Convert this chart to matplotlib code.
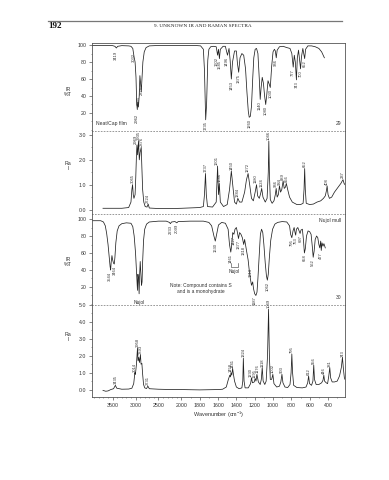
import numpy as np
import matplotlib
matplotlib.use("Agg")
import matplotlib.pyplot as plt
from matplotlib.lines import Line2D
from matplotlib.ticker import FixedLocator, MultipleLocator

plt.rcParams['font.family'] = ['Liberation Sans', 'DejaVu Sans']
plt.rcParams['mathtext.fontset'] = 'custom'
plt.rcParams['mathtext.rm'] = 'Liberation Sans'
plt.rcParams['mathtext.it'] = 'Liberation Sans'

# ---------------- data (wavenumber, value) ----------------
IR29 = [(3950, 99.5), (3700, 99.5), (3500, 99.3), (3450, 98.5), (3419, 96.5), (3390, 98.5), (3300, 99.3),
        (3150, 99), (3100, 98.5), (3060, 96), (3032, 86), (3010, 80), (2990, 62), (2975, 32), (2962, 24),
        (2950, 33), (2937, 27), (2920, 40), (2905, 64), (2890, 55), (2875, 45), (2860, 60), (2840, 80),
        (2810, 92), (2770, 97), (2700, 99), (2500, 99.5), (2200, 99.5), (2000, 99.5), (1850, 99.5),
        (1790, 99), (1760, 95), (1748, 70), (1735, 12), (1725, 30), (1712, 82), (1700, 95), (1680, 98),
        (1650, 98.5), (1620, 98), (1605, 88), (1595, 95), (1585, 84), (1575, 95), (1545, 98.5), (1520, 98.5),
        (1497, 88), (1480, 96), (1468, 82), (1455, 60), (1442, 80), (1420, 93), (1400, 93), (1388, 78),
        (1375, 68), (1360, 85), (1340, 90), (1320, 88), (1300, 72), (1285, 45), (1270, 22), (1260, 15),
        (1248, 16), (1235, 28), (1222, 60), (1210, 85), (1195, 95), (1180, 96), (1165, 90), (1150, 60),
        (1140, 36), (1130, 50), (1118, 62), (1105, 55), (1092, 40), (1080, 30), (1068, 42), (1055, 58),
        (1045, 55), (1030, 50), (1015, 75), (1000, 92), (985, 95), (975, 93), (965, 85), (955, 94),
        (930, 98), (890, 98.5), (850, 97), (815, 96), (795, 90), (780, 74), (768, 88), (757, 80),
        (745, 59), (735, 85), (722, 94), (710, 82), (700, 72), (690, 86), (675, 96), (662, 88),
        (655, 84), (645, 95), (620, 99), (580, 99), (540, 98), (500, 96), (470, 92), (440, 85)]

RA29 = [(3710, 0.05), (3500, 0.05), (3300, 0.05), (3150, 0.08), (3100, 0.3), (3080, 0.8), (3065, 1.0),
        (3050, 0.6), (3035, 0.45), (3010, 0.6), (2995, 1.3), (2980, 2.2), (2969, 2.6), (2955, 2.2),
        (2935, 2.75), (2918, 2.0), (2900, 2.3), (2876, 2.5), (2862, 1.7), (2845, 0.8), (2820, 0.3),
        (2790, 0.12), (2750, 0.1), (2724, 0.22), (2700, 0.06), (2500, 0.04), (2200, 0.04), (2000, 0.05),
        (1800, 0.08), (1760, 0.12), (1748, 0.6), (1737, 1.45), (1728, 0.6), (1715, 0.12), (1660, 0.1),
        (1620, 0.3), (1605, 1.75), (1595, 0.6), (1586, 1.05), (1575, 0.3), (1540, 0.12), (1500, 0.2),
        (1475, 0.8), (1455, 1.55), (1440, 1.0), (1420, 0.3), (1400, 0.22), (1384, 0.45), (1365, 0.3),
        (1340, 0.3), (1310, 0.7), (1290, 1.2), (1272, 1.45), (1255, 1.0), (1235, 0.45), (1215, 0.35),
        (1195, 0.7), (1180, 1.0), (1168, 0.55), (1150, 0.45), (1135, 0.65), (1124, 0.85), (1110, 0.5),
        (1085, 0.3), (1065, 0.45), (1052, 1.5), (1046, 2.75), (1040, 1.5), (1030, 0.4), (1010, 0.25),
        (990, 0.35), (975, 0.6), (966, 0.85), (955, 0.5), (942, 0.6), (930, 0.95), (918, 0.7),
        (905, 0.8), (890, 1.15), (878, 0.85), (865, 0.9), (855, 1.05), (840, 0.8), (820, 0.5),
        (790, 0.3), (740, 0.2), (700, 0.2), (672, 0.25), (662, 0.8), (655, 1.65), (648, 0.8),
        (638, 0.25), (600, 0.2), (560, 0.22), (520, 0.3), (480, 0.35), (450, 0.45), (430, 0.55),
        (418, 0.75), (410, 0.95), (400, 0.6), (385, 0.45), (360, 0.5), (330, 0.7), (300, 0.85),
        (280, 0.95), (260, 1.05), (245, 1.15), (237, 1.2), (225, 1.05), (215, 1.0)]

IR30 = [(3950, 98), (3760, 98), (3700, 96.5), (3660, 92), (3630, 83), (3600, 70), (3575, 55), (3555, 44),
        (3544, 40), (3530, 50), (3515, 57), (3500, 52), (3480, 48), (3464, 47), (3450, 55), (3430, 72),
        (3400, 86), (3360, 92), (3300, 94.5), (3200, 95.5), (3100, 95), (3060, 91), (3030, 80), (3000, 60),
        (2985, 45), (2970, 28), (2958, 16), (2948, 35), (2935, 30), (2922, 12), (2910, 35), (2898, 50),
        (2885, 38), (2870, 22), (2858, 26), (2845, 50), (2825, 75), (2800, 88), (2760, 94), (2700, 96.5),
        (2500, 97.5), (2330, 97.5), (2260, 96), (2240, 94.5), (2215, 96.5), (2140, 97), (2100, 95.5),
        (2070, 97), (1900, 97.5), (1760, 97.5), (1700, 96), (1670, 92), (1645, 80), (1630, 74), (1615, 82),
        (1595, 93), (1560, 96), (1520, 95), (1490, 88), (1475, 70), (1461, 61), (1450, 70), (1440, 84),
        (1427, 82), (1415, 88), (1400, 90), (1390, 85), (1377, 77), (1365, 84), (1350, 82), (1335, 78),
        (1320, 70), (1310, 76), (1298, 68), (1285, 60), (1272, 52), (1260, 40), (1248, 30), (1235, 22),
        (1222, 26), (1213, 18), (1200, 12), (1187, 10), (1175, 14), (1165, 30), (1150, 60), (1138, 82),
        (1125, 88), (1112, 84), (1100, 70), (1085, 48), (1072, 33), (1062, 28), (1052, 35), (1040, 55),
        (1025, 75), (1005, 88), (980, 94), (950, 96), (900, 97), (850, 96.5), (820, 92), (808, 82),
        (795, 78), (782, 86), (770, 90), (760, 84), (753, 81), (745, 88), (730, 90), (715, 86), (705, 83),
        (695, 87), (680, 88), (668, 75), (658, 60), (648, 65), (635, 80), (618, 86), (600, 85), (585, 82),
        (572, 68), (562, 55), (552, 62), (540, 76), (525, 80), (512, 78), (500, 70), (490, 66), (480, 74),
        (474, 63), (466, 72), (455, 68), (445, 71), (430, 66)]

RA30 = [(3710, -0.05), (3650, -0.1), (3600, -0.08), (3540, 0.0), (3480, 0.05), (3440, 0.25), (3410, 0.08),
        (3300, 0.02), (3150, 0.03), (3080, 0.08), (3040, 0.35), (3014, 1.0), (3005, 0.9), (2995, 1.1),
        (2980, 1.5), (2958, 2.45), (2945, 1.7), (2930, 1.9), (2915, 1.6), (2893, 2.05), (2880, 1.5),
        (2862, 1.55), (2845, 0.9), (2825, 0.3), (2800, 0.1), (2760, 0.06), (2731, 0.2), (2700, 0.05),
        (2500, 0.02), (2200, 0.0), (2000, 0.0), (1800, -0.02), (1600, 0.0), (1550, 0.02), (1510, 0.15),
        (1490, 0.55), (1472, 0.85), (1465, 0.75), (1458, 1.0), (1450, 0.85), (1441, 1.25), (1432, 0.9),
        (1420, 0.5), (1400, 0.15), (1370, 0.05), (1340, 0.1), (1330, 0.5), (1324, 1.85), (1316, 0.5),
        (1305, 0.1), (1270, 0.1), (1245, 0.35), (1235, 0.7), (1225, 0.4), (1205, 0.45), (1195, 0.65),
        (1186, 0.5), (1176, 0.9), (1160, 0.45), (1140, 0.3), (1128, 0.6), (1118, 1.3), (1108, 0.5),
        (1090, 0.3), (1075, 0.5), (1060, 2.0), (1049, 4.75), (1040, 2.0), (1030, 0.6), (1015, 0.6),
        (1002, 0.9), (990, 0.35), (960, 0.15), (930, 0.2), (915, 0.45), (903, 0.9), (892, 0.4),
        (870, 0.15), (840, 0.12), (815, 0.3), (803, 1.0), (795, 2.1), (787, 1.0), (775, 0.25),
        (740, 0.12), (680, 0.1), (640, 0.15), (622, 0.4), (612, 0.8), (602, 0.35), (580, 0.25),
        (565, 0.5), (556, 1.45), (548, 0.6), (530, 0.3), (500, 0.3), (470, 0.4), (455, 0.55),
        (446, 0.85), (438, 0.5), (420, 0.4), (405, 0.35), (392, 0.8), (381, 1.3), (372, 0.7),
        (355, 0.45), (330, 0.45), (300, 0.5), (275, 0.8), (255, 1.3), (243, 1.9), (232, 1.2),
        (222, 0.7), (215, 0.6)]

# peak labels: (text, wavenumber, y)
IR29_LABELS = [("3419", 3419, 93), ("3032", 3040, 91), ("2962", 2968, 19), ("2935", 2930, 40),
               ("2875", 2868, 52), ("1735", 1735, 10), ("1602", 1612, 86), ("1585", 1578, 82),
               ("1496", 1500, 86), ("1453", 1455, 58), ("1375", 1372, 66), ("1260", 1255, 13),
               ("1140", 1142, 34), ("1080", 1080, 28), ("1030", 1028, 48), ("966", 965, 83),
               ("777", 782, 72), ("743", 745, 57), ("700", 700, 70), ("652", 652, 82)]
RA29_LABELS = [("3065", 3065, 1.05), ("2969", 2998, 2.65), ("2935", 2935, 2.8), ("2876", 2862, 2.55),
               ("2724", 2724, 0.27), ("1737", 1737, 1.5), ("1601", 1610, 1.8), ("1586", 1580, 1.1),
               ("1450", 1455, 1.6), ("1384", 1384, 0.5), ("1272", 1272, 1.5), ("1180", 1184, 1.05),
               ("1124", 1120, 0.9), ("1046", 1046, 2.8), ("966", 968, 0.9), ("934", 930, 1.0),
               ("889", 892, 1.2), ("856", 852, 1.1), ("652", 655, 1.7), ("408", 410, 1.0), ("237", 237, 1.25)]
IR30_LABELS = [("3544", 3550, 38), ("3464", 3460, 45), ("2233", 2240, 93), ("2099", 2100, 94),
               ("1630", 1630, 72), ("1461", 1465, 59), ("1427", 1425, 80), ("1377", 1377, 75),
               ("1318", 1318, 68), ("1213", 1240, 42), ("1187", 1195, 9), ("1062", 1062, 26),
               ("795", 798, 76), ("753", 750, 79), ("697", 703, 81), ("658", 658, 58),
               ("562", 562, 53), ("477", 474, 61)]
RA30_LABELS = [("3435", 3440, 0.3), ("3014", 3022, 1.05), ("2958", 2958, 2.5), ("2893", 2888, 2.1),
               ("2731", 2731, 0.25), ("1458", 1466, 1.05), ("1441", 1436, 1.3), ("1324", 1324, 1.9),
               ("1230", 1240, 0.75), ("1195", 1203, 0.7), ("1176", 1168, 0.95), ("1118", 1118, 1.35),
               ("1049", 1049, 4.8), ("1002", 1002, 0.95), ("903", 903, 0.95), ("795", 795, 2.15),
               ("612", 612, 0.85), ("556", 556, 1.5), ("446", 446, 0.9), ("381", 381, 1.35), ("243", 243, 1.95)]

X_TICKS = [3500, 3000, 2500, 2000, 1800, 1600, 1400, 1200, 1000, 800, 600, 400]

# ---------------- figure ----------------
W, H = 389, 480
fig = plt.figure(figsize=(W / 100, H / 100), dpi=100)


def fwd(x):
    x = np.asarray(x, dtype=float)
    return np.where(x >= 2000, x, 2 * x - 2000)


def inv(u):
    u = np.asarray(u, dtype=float)
    return np.where(u >= 2000, u, (u + 2000) / 2)


def rect(top, bottom):
    return [92 / W, 1 - bottom / H, 253 / W, (bottom - top) / H]


LC = '#222222'
FC = '#555555'
TXT = '#333333'

panels = [
    dict(r=rect(43, 131), ylim=(-1.2, 102.4), data=IR29, labels=IR29_LABELS, ir=True,
         major=[20, 40, 60, 80, 100], fmt='{:.0f}', minor=10),
    dict(r=rect(131, 214), ylim=(-0.18, 3.16), data=RA29, labels=RA29_LABELS, ir=False,
         major=[0, 1, 2, 3], fmt='{:.1f}', minor=0.5),
    dict(r=rect(214, 305), ylim=(-1.2, 105.9), data=IR30, labels=IR30_LABELS, ir=True,
         major=[20, 40, 60, 80, 100], fmt='{:.0f}', minor=10),
    dict(r=rect(305, 397), ylim=(-0.44, 5.0), data=RA30, labels=RA30_LABELS, ir=False,
         major=[0, 1, 2, 3, 4, 5], fmt='{:.1f}', minor=0.5),
]

axes = []
for i, p in enumerate(panels):
    ax = fig.add_axes(p['r'])
    ax.set_xscale('function', functions=(fwd, inv))
    ax.set_xlim(3950, 215)
    ax.set_ylim(*p['ylim'])
    wn = [d[0] for d in p['data']]
    val = [d[1] for d in p['data']]
    ax.plot(wn, val, color=LC, lw=0.55, solid_joinstyle='round')
    for t, x, y in p['labels']:
        ax.text(x, y, t, rotation=90, ha='center', va='top' if p['ir'] else 'bottom',
                fontsize=3.0, color=TXT, clip_on=False)
    ax.set_facecolor('none')
    for s in ['left', 'right', 'top', 'bottom']:
        ax.spines[s].set_color(FC)
        ax.spines[s].set_linewidth(0.6)
    ax.spines['top'].set_visible(i == 0)
    if i < 3:
        ax.spines['bottom'].set_linestyle((0, (1, 2.5)))
        ax.spines['bottom'].set_color('#888888')
        ax.tick_params(axis='x', which='both', bottom=False, labelbottom=False)
    else:
        ax.xaxis.set_major_locator(FixedLocator(X_TICKS))
        ax.xaxis.set_minor_locator(FixedLocator(list(range(3900, 2000, -100)) + list(range(1900, 200, -100))))
        ax.set_xticklabels([str(t) for t in X_TICKS])
        ax.tick_params(axis='x', which='major', length=2, width=0.5, color=FC, labelsize=3.8,
                       labelcolor=TXT, pad=2)
        ax.tick_params(axis='x', which='minor', length=1, width=0.4, color=FC)
        ax.set_xlabel(r'Wavenumber (cm$^{-1}$)', fontsize=4.0, color=TXT, labelpad=1.5)
    ax.yaxis.set_major_locator(FixedLocator(p['major']))
    ax.set_yticklabels([p['fmt'].format(v) for v in p['major']])
    ax.yaxis.set_minor_locator(MultipleLocator(p['minor']))
    ax.tick_params(axis='y', which='major', length=2, width=0.5, color=FC, labelsize=3.8,
                   labelcolor=TXT, pad=2)
    ax.tick_params(axis='y', which='minor', length=1, width=0.4, color=FC)
    axes.append(ax)

ax1, ax2, ax3, ax4 = axes

# panel annotations
ax1.text(0.015, 0.08, 'Neat/Cap film', transform=ax1.transAxes, fontsize=3.6, color=TXT, va='center')
ax1.text(0.985, 0.08, '29', transform=ax1.transAxes, fontsize=3.6, color=TXT, va='center', ha='right')
ax3.text(0.985, 0.93, 'Nujol mull', transform=ax3.transAxes, fontsize=3.6, color=TXT, va='center', ha='right')
ax3.text(0.43, 0.18, 'Note: Compound contains S\nand is a monohydrate', transform=ax3.transAxes,
         fontsize=3.5, color=TXT, va='center', ha='center', linespacing=1.3)
ax3.text(0.985, 0.08, '30', transform=ax3.transAxes, fontsize=3.6, color=TXT, va='center', ha='right')
ax3.text(2925, 5, 'Nujol', fontsize=3.5, color=TXT, ha='center', va='top')
# Nujol bracket at 1461 / 1377
ax3.plot([1461, 1461, 1377, 1377], [48, 44, 44, 48], color=TXT, lw=0.4)
ax3.text(1419, 41, 'Nujol', fontsize=3.5, color=TXT, ha='center', va='top')

# y-axis titles
for ytop, txt in [(92, 'IR\n%T'), (166, 'Ra\nI'), (262, 'IR\n%T'), (337, 'Ra\nI')]:
    fig.text(68 / W, 1 - ytop / H, txt, fontsize=3.8, color=TXT, ha='center', va='center', linespacing=1.2)

# page header
fig.add_artist(Line2D([48 / W, 342 / W], [1 - 20.7 / H] * 2, color='#777777', lw=0.9))
fig.text(48 / W, 1 - 26 / H, '192', fontsize=6.5, fontweight='bold', family='Liberation Serif',
         ha='left', va='center', color='#111111')
fig.text(203 / W, 1 - 26 / H, '9. UNKNOWN IR AND RAMAN SPECTRA', fontsize=3.8, family='Liberation Serif',
         ha='center', va='center', color='#222222')

fig.savefig('out.png', dpi=100)
